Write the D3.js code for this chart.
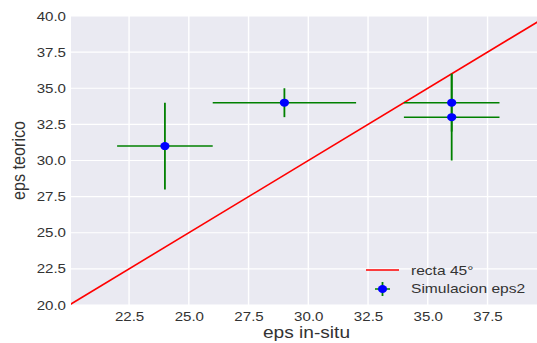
<!DOCTYPE html>
<html>
<head>
<meta charset="utf-8">
<script src="https://cdn.jsdelivr.net/npm/d3@7"></script>
<style>
  html, body { margin: 0; padding: 0; background: #fff; }
  svg text { font-family: "Liberation Sans", Arial, sans-serif; }
</style>
</head>
<body>
<svg id="chart" width="537" height="343"></svg>
<script>
// Measured vs simulated permittivity
const epsInSitu   = [24, 29, 36, 36];
const epsTeorico  = [31, 34, 34, 33];
const errInSitu   = [2, 3, 2, 2];
const errTeorico  = [3, 1, 2, 3];
const lineX       = [20, 40];   // 45-degree reference line
const xTicks      = [22.5, 25.0, 27.5, 30.0, 32.5, 35.0, 37.5];
const yTicks      = [20.0, 22.5, 25.0, 27.5, 30.0, 32.5, 35.0, 37.5, 40.0];
const legendLabels = ["recta 45°", "Simulacion eps2"];

const SX = 1.18;   // horizontal stretch of the figure
const svg = d3.select("#chart");
const W = 537, H = 343;
const m = { left: 71, right: 0, top: 16, bottom: 38 };

const x = d3.scaleLinear().domain([20.07, 39.57]).range([m.left, W - m.right]);
const y = d3.scaleLinear().domain([20, 40]).range([H - m.bottom, m.top]);

svg.append("defs").append("clipPath").attr("id", "plotclip")
  .append("rect")
  .attr("x", m.left).attr("y", m.top)
  .attr("width", W - m.left - m.right).attr("height", H - m.top - m.bottom);

// background
svg.append("rect")
  .attr("x", m.left).attr("y", m.top)
  .attr("width", W - m.left - m.right).attr("height", H - m.top - m.bottom)
  .attr("fill", "#EAEAF2");

// grid
const grid = svg.append("g");
grid.selectAll(".gx").data(xTicks).join("line")
  .attr("x1", d => x(d)).attr("x2", d => x(d))
  .attr("y1", m.top).attr("y2", H - m.bottom)
  .attr("stroke", "#fff").attr("stroke-width", 1.4);
grid.selectAll(".gy").data(yTicks).join("line")
  .attr("y1", d => y(d)).attr("y2", d => y(d))
  .attr("x1", m.left).attr("x2", W - m.right)
  .attr("stroke", "#fff").attr("stroke-width", 1.2);

// axes (labels only, no spines)
const xAxis = svg.append("g")
  .attr("transform", `translate(0,${H - m.bottom})`)
  .call(d3.axisBottom(x).tickValues(xTicks).tickFormat(d3.format(".1f")).tickSize(0).tickPadding(7));
const yAxis = svg.append("g")
  .attr("transform", `translate(${m.left},0)`)
  .call(d3.axisLeft(y).tickValues(yTicks).tickFormat(d3.format(".1f")).tickSize(0).tickPadding(5 / SX));
[xAxis, yAxis].forEach(a => {
  a.select(".domain").remove();
  a.selectAll("text").attr("font-size", 12.8).attr("fill", "#333")
    .attr("font-family", "Liberation Sans, Arial, sans-serif")
    .attr("transform", `scale(${SX},1)`);
});

const plot = svg.append("g").attr("clip-path", "url(#plotclip)");

// 45-degree line
plot.append("path")
  .datum(lineX)
  .attr("d", d3.line().x(d => x(d)).y(d => y(d)))
  .attr("fill", "none").attr("stroke", "#FF0000").attr("stroke-width", 1.6);

// error bars
const pts = epsInSitu.map((v, i) => ({ x: v, y: epsTeorico[i], ex: errInSitu[i], ey: errTeorico[i] }));
const eb = plot.append("g");
eb.selectAll(".ex").data(pts).join("line")
  .attr("x1", d => x(d.x - d.ex)).attr("x2", d => x(d.x + d.ex))
  .attr("y1", d => y(d.y)).attr("y2", d => y(d.y))
  .attr("stroke", "#008000").attr("stroke-width", 1.5);
eb.selectAll(".ey").data(pts).join("line")
  .attr("x1", d => x(d.x)).attr("x2", d => x(d.x))
  .attr("y1", d => y(d.y - d.ey)).attr("y2", d => y(d.y + d.ey))
  .attr("stroke", "#008000").attr("stroke-width", 1.8);
plot.selectAll(".pt").data(pts).join("ellipse")
  .attr("cx", d => x(d.x)).attr("cy", d => y(d.y))
  .attr("rx", 4.6).attr("ry", 4.0).attr("fill", "#0000FF");

// legend
const lg = svg.append("g");
lg.append("line").attr("x1", 366).attr("x2", 399).attr("y1", 270).attr("y2", 270)
  .attr("stroke", "#FF0000").attr("stroke-width", 1.6);
lg.append("line").attr("x1", 375).attr("x2", 390).attr("y1", 289).attr("y2", 289)
  .attr("stroke", "#008000").attr("stroke-width", 1.5);
lg.append("line").attr("x1", 382.5).attr("x2", 382.5).attr("y1", 282).attr("y2", 296)
  .attr("stroke", "#008000").attr("stroke-width", 1.8);
lg.append("ellipse").attr("cx", 382.5).attr("cy", 289).attr("rx", 4.6).attr("ry", 4.0).attr("fill", "#0000FF");
lg.selectAll("text").data(legendLabels).join("text")
  .attr("transform", (d, i) => `translate(411,${270 + i * 18}) scale(${SX},1)`)
  .attr("dy", "0.35em")
  .attr("font-size", 13.2).attr("fill", "#333")
  .text(d => d);

// axis titles
svg.append("text")
  .attr("transform", `translate(306.5,338) scale(${SX},1)`)
  .attr("text-anchor", "middle").attr("font-size", 16.2).attr("fill", "#333")
  .text("eps in-situ");
svg.append("text")
  .attr("transform", `translate(25,160.5) scale(${SX},1) rotate(-90)`)
  .attr("text-anchor", "middle").attr("font-size", 16.2).attr("fill", "#333")
  .text("eps teorico");
</script>
</body>
</html>
